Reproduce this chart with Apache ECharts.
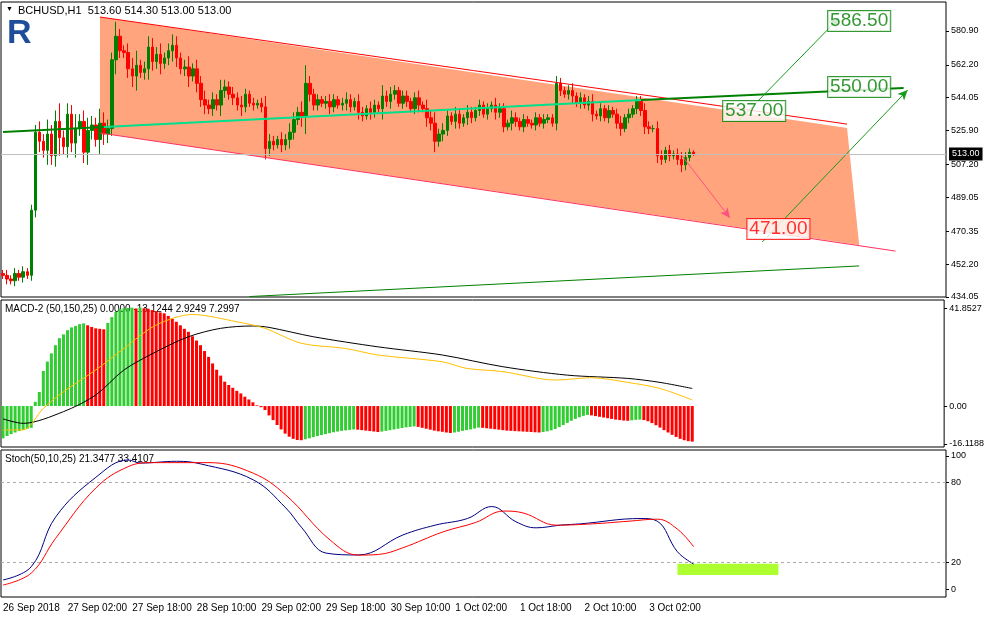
<!DOCTYPE html>
<html><head><meta charset="utf-8">
<script src="https://cdn.jsdelivr.net/npm/echarts@6/dist/echarts.min.js"></script>
<style>html,body{margin:0;padding:0;background:#fff}#c{width:987px;height:617px}</style>
</head><body><div id="c"></div>
<script>
const SLOTS = 234;
const firstOpen = 447;
const closes = [446,444,443,447,445,448,446,482,525,
520,515,524,512,531,522,517,535,519,527,531,514,526,529,521,530,524,527,
565,578,570,
569,560,556,562,558,560,572,564,568,563,566,570,573,566,560,561,556,560,552,543,
540,538,543,540,548,550,546,544,540,539,546,541,540,541,539,
516,520,518,521,518,521,525,532,536,534,552,546,540,543,541,
542,539,543,540,541,543,539,542,536,534,538,536,540,538,545,542,546,548,541,545,
542,538,544,540,538,533,530,520,524,526,534,531,535,530,533,536,533,537,540,535,538,540,536,538,528,530,533,531,528,532,530,529,533,530,532,533,530,
552,548,546,548,545,541,544,540,542,535,534,538,533,537,535,530,527,533,535,538,542,537,528,527,527,512,510,515,512,513,510,507,511,514,513];
const wicks = [2,3,2,3,2,3,2,3,4,
6,4,8,5,6,10,4,6,5,8,4,6,7,5,4,8,6,5,
4,8,4,3,5,6,8,3,4,6,5,4,6,3,4,6,5,3,4,6,3,5,4,
5,3,4,3,6,4,3,4,3,5,3,2,3,2,3,
6,4,3,2,4,3,5,4,3,6,10,4,3,3,2,
3,4,3,2,3,4,3,2,4,3,2,4,3,2,6,3,4,3,2,3,
3,2,3,4,2,5,4,6,3,4,3,2,4,3,2,4,3,2,3,2,3,2,4,3,3,2,4,3,2,3,2,2,3,2,3,2,2,
4,3,2,3,4,2,3,2,3,4,2,3,2,3,2,3,4,2,3,2,3,3,4,3,2,4,3,2,3,2,3,4,3,2,1];
const hist = [-13.8,-12.8,-12,-11.3,-10.7,-10.2,-9.7,-9.3,
1.8,6,15,19,22.5,26,29,30.6,32.4,33.6,34.2,35,35.3,
34.5,33.8,33.2,33,32.8,
35.5,38,40.2,41.5,41.8,41.9,42,41.7,42.1,41.8,
41.6,41,40.5,40,39.6,38.5,37.3,36,34.5,33,31.7,29.8,28,26,23.5,21,18.2,15.5,13,10.4,9,7.8,6.5,5.4,4,2.8,1.6,0.3,
-0.5,-1.7,-4,-6,-8.1,-10,-11.8,-13.1,-14,-14.5,-14.6,
-14.2,-13.8,-13.3,-12.8,-12.4,-12,-11.6,-11.2,-10.9,-10.6,-10.4,-10.2,-10,
-10.1,-10.3,-10.5,-10.7,-10.9,-11.1,
-10.9,-10.6,-10.3,-10,-9.7,-9.4,-9.1,-8.9,-8.7,
-8.9,-9.3,-9.7,-10.1,-10.5,-10.8,-11,-11.3,-11.5,
-11.3,-11,-10.6,-10.3,-10,-9.6,-9.2,
-9.3,-9.5,-9.7,-9.9,-10.1,-10.3,
-10.5,-10.6,-10.7,-10.8,-10.9,-11,-11.1,
-11.2,-11.3,-11.1,-10.8,-10.4,-9.8,-9,-8.1,-7.2,-6.3,-5.5,-4.8,-4.2,-3.8,
-4,-4.3,-4.6,-4.9,-5.2,-5.5,-5.8,-6,-6.2,-6.3,
-6.1,-5.9,-5.8,
-6,-6.5,-7.3,-8.2,-9.2,-10.3,-11.3,-12.3,-13.2,-14,-14.6,-15,-15.2];
const macdBlack = [[0,-5.5],[5,-7.4],[15,-2.4],[23,4.7],[30,15.4],[38,23.2],[46,29.6],[54,33.2],[62,34.2],[66,33.6],[77,29.6],[93,25.3],[109,21.8],[124,16.8],[140,13.2],[155,11.8],[163,10.1],[171,7.5]];
const macdYellow = [[0,-10.2],[5,-10.2],[10,-1],[15,6.1],[23,15.4],[30,24.6],[38,34.6],[47,39.1],[58,36],[65,33.2],[74,26.8],[85,24.6],[93,21.8],[109,18.9],[115,16.1],[124,14.7],[137,11.1],[146,12.1],[155,10.1],[163,7.5],[171,2.6]];
const stochMain = [[0,6.8],[7,16.8],[13,54],[23,84],[31,97],[34,94.7],[43,96],[49,94],[62,82],[70,61],[74,46],[80,27],[88,25.6],[99,40.6],[107,48],[115,53],[121,62],[127,50.6],[132,46],[138,48],[143,49],[158,53],[162,51],[167,28],[171,18.8]];
const stochSignal = [[0,3],[7,12],[13,38],[23,76],[31,92],[37,95],[51,95],[62,87],[70,70.7],[81,36.8],[88,25.5],[93,26],[99,31],[109,43],[117,50],[124,58.6],[129,57],[137,48],[146,49],[155,51],[162,52.5],[167,45],[171,31.8]];
const priceTicks = [434.05,452.20,470.35,489.05,507.20,525.90,544.05,562.20,580.90];
const macdTicks = [-16.1188,0,41.8527];
const stochTicks = [0,20,80,100];
const timeLabels = ["26 Sep 2018","27 Sep 02:00","27 Sep 18:00","28 Sep 10:00","29 Sep 02:00","29 Sep 18:00","30 Sep 10:00","1 Oct 02:00","1 Oct 18:00","2 Oct 10:00","3 Oct 02:00"];
const channelPoly = [[24,588.6],[209,527.3],[212,462.8],[24,524.6]];
const stochZone = [[167,19],[192,10.5]];
const targets = [
  {idx:212, p:586.4, t:"586.50", c:"#008000"},
  {idx:212, p:550.0, t:"550.00", c:"#008000"},
  {idx:186, p:536.7, t:"537.00", c:"#008000"},
  {idx:192, p:471.6, t:"471.00", c:"#ff0000"}];
const lastPrice = 513.00;

const cats = []; for (let i=0;i<SLOTS;i++) cats.push(i);
const ohlc = closes.map((c,i)=>{const o=i===0?firstOpen:closes[i-1];const w=wicks[i];return [o,c,Math.min(o,c)-w,Math.max(o,c)+w];});
const histData = hist.map((v,i)=>({value:v,itemStyle:{color:(i>0&&v<hist[i-1])?'#ff0000':'#32cd32'}}));

const F = 'Liberation Sans, Arial, sans-serif';
function xa(gi, show){return {type:'category',gridIndex:gi,data:cats,boundaryGap:true,axisLine:{show:false},axisTick:{show:false},
  axisLabel:{show:show,interval:15,align:'left',fontSize:10,color:'#000',fontFamily:F,margin:6,formatter:(v,i)=>timeLabels[i/16]||''},splitLine:{show:false}};}
function ya(gi,min,max,ticks,fmt){return {type:'value',gridIndex:gi,position:'right',min:min,max:max,axisLine:{show:false},splitLine:{show:false},
  axisTick:{show:true,customValues:ticks,length:3,lineStyle:{color:'#000'}},axisLabel:{customValues:ticks,fontSize:9,color:'#000',fontFamily:F,margin:5,formatter:fmt}};}
const ml = (a,b,color,w,arrow,type)=>[{coord:a,symbol:'none',lineStyle:{color:color,width:w,type:type||'solid'}},{coord:b,symbol:arrow?'arrow':'none',symbolSize:arrow?[7,10]:0}];

const chart = echarts.init(document.getElementById('c'));
chart.setOption({
  animation:false,
  backgroundColor:'#fff',
  textStyle:{fontFamily:F},
  grid:[
    {left:1,right:41,top:2,height:295,show:true,borderColor:'#000',borderWidth:1,backgroundColor:'#fff'},
    {left:1,right:41,top:300,height:147,show:true,borderColor:'#000',borderWidth:1,backgroundColor:'#fff'},
    {left:1,right:41,top:450,height:147,show:true,borderColor:'#000',borderWidth:1,backgroundColor:'#fff'}],
  xAxis:[xa(0,false),xa(1,false),xa(2,true)],
  yAxis:[ya(0,434.05,596.9,priceTicks,v=>v.toFixed(2)),
         ya(1,-17.5,45.3,macdTicks,v=>v===0?'0.00':String(v)),
         ya(2,-6,104.5,stochTicks,v=>String(v))],
  graphic:[
    {type:'text',left:6,top:6,style:{text:'▼',fontSize:7,fill:'#000'}},
    {type:'text',left:18,top:5,style:{text:'BCHUSD,H1  513.60 514.30 513.00 513.00',fontSize:11,fill:'#000',fontFamily:F}},
    {type:'text',left:7,top:17,style:{text:'R',fontSize:34,fontWeight:'bold',fill:'#1e4e9a',fontFamily:F}},
    {type:'text',left:5,top:304,style:{text:'MACD-2 (50,150,25) 0.0000 -13.1244 2.9249 7.2997',fontSize:10,fill:'#000',fontFamily:F}},
    {type:'text',left:5,top:454,style:{text:'Stoch(50,10,25) 21.3477 33.4107',fontSize:10,fill:'#000',fontFamily:F}}],
  series:[
    {type:'custom',xAxisIndex:0,yAxisIndex:0,silent:true,z:1,data:[0],
     renderItem:(p,api)=>({type:'polygon',shape:{points:channelPoly.map(q=>api.coord(q))},style:{fill:'#ffa47d'}})},
    {type:'line',xAxisIndex:0,yAxisIndex:0,data:[],z:3,silent:true,
     markLine:{silent:true,symbol:'none',label:{show:false},animation:false,data:[
       ml([24,588.6],[209,529.5],'#ff0000',1),
       ml([24,524.6],[221,459.4],'#ff3060',1),
       ml([173,597],[233,575.9],'#ff0000',1),
       ml([0,525.1],[25,527.9],'#008000',2),
       ml([25,527.9],[158,542.8],'#00e08a',2),
       ml([158,542.8],[223,549.4],'#008000',2),
       ml([61,434.3],[212,451.2],'#008000',1),
       ml([168,512.4],[180,477.7],'#ff5080',1,true),
       ml([182,531],[207,588],'#1a9a1a',1,true),
       ml([188,464.4],[224,548.3],'#1a9a1a',1,true)]}},
    {type:'candlestick',xAxisIndex:0,yAxisIndex:0,data:ohlc,barWidth:3,z:4,
     itemStyle:{color:'#008000',borderColor:'#008000',color0:'#ff0000',borderColor0:'#ff0000',borderWidth:1},
     markLine:{silent:true,symbol:'none',animation:false,data:[{yAxis:lastPrice,lineStyle:{color:'#c0c0c0',width:1,type:'solid'},
       label:{show:true,position:'end',formatter:lastPrice.toFixed(2),color:'#fff',backgroundColor:'#000',fontSize:9,padding:[2,3],distance:3}}]}},
    {type:'scatter',xAxisIndex:0,yAxisIndex:0,symbolSize:0,z:6,
     data:targets.map(t=>({value:[t.idx,t.p],label:{show:true,position:'inside',formatter:t.t,color:t.c,borderColor:t.c,borderWidth:1,backgroundColor:'#fff',fontSize:19,padding:[1,2,0,2],fontFamily:F}}))},
    {type:'bar',xAxisIndex:1,yAxisIndex:1,data:histData,barWidth:3},
    {type:'line',xAxisIndex:1,yAxisIndex:1,data:macdBlack,symbol:'none',smooth:0.3,lineStyle:{color:'#000',width:1}},
    {type:'line',xAxisIndex:1,yAxisIndex:1,data:macdYellow,symbol:'none',smooth:0.3,lineStyle:{color:'#ffc000',width:1}},
    {type:'custom',xAxisIndex:2,yAxisIndex:2,data:[0],z:1,
     renderItem:(p,api)=>{const a=api.coord(stochZone[0]),b=api.coord(stochZone[1]);return {type:'rect',shape:{x:a[0],y:a[1],width:b[0]-a[0],height:b[1]-a[1]},style:{fill:'#adff2f'}};}},
    {type:'line',xAxisIndex:2,yAxisIndex:2,data:stochMain,symbol:'none',smooth:0.4,lineStyle:{color:'#000080',width:1},
     markLine:{silent:true,symbol:'none',label:{show:false},data:[{yAxis:80},{yAxis:20}],lineStyle:{color:'#aaa',type:[3,3],width:1}}},
    {type:'line',xAxisIndex:2,yAxisIndex:2,data:stochSignal,symbol:'none',smooth:0.4,lineStyle:{color:'#ff0000',width:1}}
  ]
});
</script></body></html>
